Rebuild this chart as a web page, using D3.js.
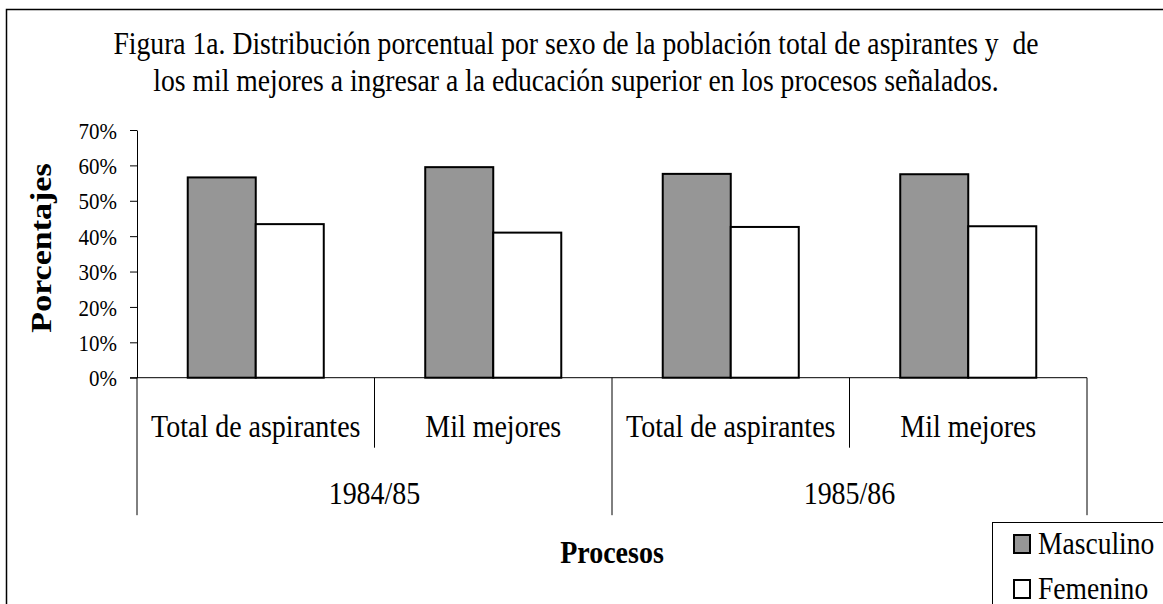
<!DOCTYPE html>
<html>
<head>
<meta charset="utf-8">
<script src="https://cdn.jsdelivr.net/npm/d3@7"></script>
<style>
  body { margin: 0; background: #fff; }
  svg text { font-family: "Liberation Serif", "Times New Roman", serif; fill: #000; }
</style>
</head>
<body>
<svg id="chart"></svg>
<script>
const title_lines = [
  "Figura 1a. Distribución porcentual por sexo de la población total de aspirantes y  de",
  "los mil mejores a ingresar a la educación superior en los procesos señalados."
];
const groups = ["1984/85", "1985/86"];
const categories = ["Total de aspirantes", "Mil mejores"];
const series = ["Masculino", "Femenino"];
// one value per group x category, in order
const masculino = [0.566, 0.595, 0.576, 0.575];
const femenino = [0.434, 0.410, 0.426, 0.428];
const y_ticks = [0, 0.1, 0.2, 0.3, 0.4, 0.5, 0.6, 0.7];
const colors = ["#969696", "#ffffff"];

// the original is a little squashed horizontally, so text is too
const SX = 0.875;

class BarChart {

  constructor(config) {
    this.config = {
      parent: config.parent,
      width: config.width || 1163,
      height: config.height || 604,
      margin: config.margin || {top: 130, right: 76, bottom: 226.3, left: 137},
      x_label: config.x_label || '',
      y_label: config.y_label || '',
    }
    this.init()
  }

  init() {
    let self = this

    self.svg = d3.select(self.config.parent)
      .attr("width", self.config.width)
      .attr("height", self.config.height);

    self.chart_width = self.config.width - self.config.margin.left - self.config.margin.right;
    self.chart_height = self.config.height - self.config.margin.top - self.config.margin.bottom;

    // outer frame (only left and top edges show)
    self.svg.append("rect")
      .attr("x", 6.5).attr("y", 9.5)
      .attr("width", self.config.width + 20).attr("height", self.config.height + 20)
      .attr("fill", "none").attr("stroke", "#000").attr("stroke-width", 1.5);

    self.chart = self.svg.append("g")
      .attr("transform", "translate(" + self.config.margin.left + "," + self.config.margin.top + ")");

    self.keys = [];
    groups.forEach(g => categories.forEach(c => self.keys.push(g + "|" + c)));

    self.x_scale = d3.scaleBand()
      .domain(self.keys)
      .range([0, self.chart_width])
      .padding(0);

    self.x_inner = d3.scaleBand()
      .domain(series)
      .range([0, self.x_scale.bandwidth()])
      .paddingInner(0)
      .paddingOuter(0.746);

    self.group_scale = d3.scaleBand()
      .domain(groups)
      .range([0, self.chart_width]);

    self.y_scale = d3.scaleLinear()
      .domain([0, 0.7])
      .range([self.chart_height, 0]);

    self.y_axis = d3.axisLeft(self.y_scale)
      .tickValues(y_ticks)
      .tickFormat(d3.format(".0%"))
      .tickSize(7)
      .tickSizeOuter(0);

    self.y_axis_group = self.chart.append("g");
    self.bar_group = self.chart.append("g");
    self.x_axis_group = self.chart.append("g");

    // titles
    self.svg.append("g").selectAll("text")
      .data(title_lines)
      .join("text")
      .attr("transform", (d, i) => `translate(576,${54 + i * 37}) scale(${SX},1)`)
      .attr("text-anchor", "middle")
      .style("font-size", "31.6px")
      .style("white-space", "pre")
      .text(d => d);

    self.svg.append("text")
      .attr("transform", `translate(51,248) scale(${SX},1) rotate(-90)`)
      .attr("text-anchor", "middle")
      .style("font-size", "34px")
      .style("font-weight", "bold")
      .text(self.config.y_label);

    self.svg.append("text")
      .attr("transform", `translate(${self.config.margin.left + self.chart_width / 2},563) scale(${SX},1)`)
      .attr("text-anchor", "middle")
      .style("font-size", "32px")
      .style("font-weight", "bold")
      .text(self.config.x_label);
  }

  update() {
    let self = this;
    self.data = self.keys.map((k, i) => ({
      key: k,
      group: k.split("|")[0],
      category: k.split("|")[1],
      values: [{s: series[0], v: masculino[i]}, {s: series[1], v: femenino[i]}]
    }));
    self.render()
  }

  render() {
    let self = this

    // y axis
    self.y_axis_group.call(self.y_axis);
    self.y_axis_group.select(".domain").attr("stroke", "#000");
    self.y_axis_group.selectAll(".tick line").attr("stroke", "#000");
    self.y_axis_group.selectAll(".tick text")
      .attr("x", 0).attr("dy", "0.34em")
      .attr("transform", `translate(-20,0) scale(${SX},1)`)
      .style("font-size", "24px")
      .attr("font-family", null);

    // bars
    const cat = self.bar_group.selectAll("g")
      .data(self.data)
      .join("g")
      .attr("transform", d => "translate(" + self.x_scale(d.key) + ",0)");

    cat.selectAll("rect")
      .data(d => d.values)
      .join("rect")
      .attr("x", d => self.x_inner(d.s))
      .attr("width", self.x_inner.bandwidth())
      .attr("y", d => self.y_scale(d.v))
      .attr("height", d => self.chart_height - self.y_scale(d.v))
      .attr("fill", (d, i) => colors[i])
      .attr("stroke", "#000")
      .attr("stroke-width", 2);

    // x axis line and category dividers
    const h = self.chart_height;
    self.x_axis_group.append("line")
      .attr("x1", -7).attr("x2", self.chart_width)
      .attr("y1", h).attr("y2", h)
      .attr("stroke", "#000");

    const edges = self.keys.map(k => self.x_scale(k)).concat([self.chart_width]);
    self.x_axis_group.selectAll(".divider")
      .data(edges)
      .join("line")
      .attr("class", "divider")
      .attr("x1", d => d).attr("x2", d => d)
      .attr("y1", h)
      .attr("y2", (d, i) => i % 2 === 0 ? h + 137.5 : h + 70)
      .attr("stroke", "#000");

    self.x_axis_group.selectAll(".cat-label")
      .data(self.data)
      .join("text")
      .attr("class", "cat-label")
      .attr("transform", d => `translate(${self.x_scale(d.key) + self.x_scale.bandwidth() / 2},${h + 59}) scale(${SX},1)`)
      .attr("text-anchor", "middle")
      .style("font-size", "32px")
      .text(d => d.category);

    self.x_axis_group.selectAll(".group-label")
      .data(groups)
      .join("text")
      .attr("class", "group-label")
      .attr("transform", d => `translate(${self.group_scale(d) + self.group_scale.bandwidth() / 2},${h + 126}) scale(${SX},1)`)
      .attr("text-anchor", "middle")
      .style("font-size", "32px")
      .text(d => d);

    // legend
    const legend = self.svg.append("g");
    legend.append("rect")
      .attr("x", 992.5).attr("y", 522.5)
      .attr("width", 300).attr("height", 200)
      .attr("fill", "#fff").attr("stroke", "#000");

    const item = legend.selectAll(".item")
      .data(series)
      .join("g")
      .attr("class", "item")
      .attr("transform", (d, i) => "translate(1013," + (534 + i * 45) + ")");

    item.append("rect")
      .attr("x", 1).attr("y", 1)
      .attr("width", 16).attr("height", 18)
      .attr("fill", (d, i) => colors[i])
      .attr("stroke", "#000")
      .attr("stroke-width", 2);

    item.append("text")
      .attr("transform", `translate(25,20) scale(${SX},1)`)
      .style("font-size", "31.5px")
      .text(d => d);
  }

}

const chart = new BarChart({
  parent: "#chart",
  width: 1163,
  height: 604,
  x_label: "Procesos",
  y_label: "Porcentajes"
});
chart.update();
</script>
</body>
</html>
